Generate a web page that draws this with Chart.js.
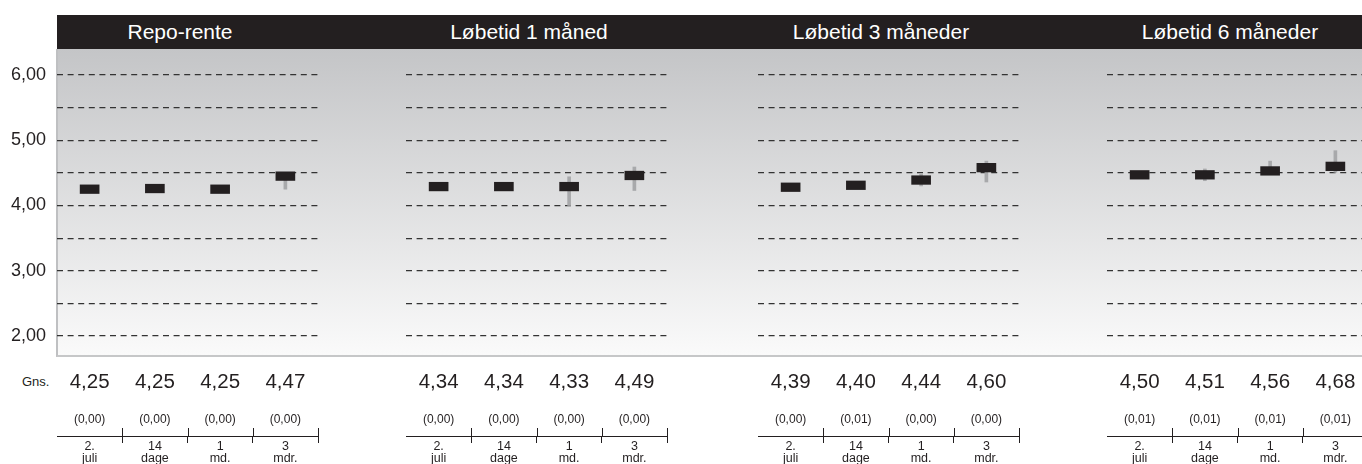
<!DOCTYPE html>
<html>
<head>
<meta charset="utf-8">
<script src="https://cdn.jsdelivr.net/npm/chart.js@4/dist/chart.umd.min.js"></script>
<style>
  html, body { margin: 0; padding: 0; background: #fff; }
  body { position: relative; width: 1362px; height: 464px; overflow: hidden;
         font-family: "Liberation Sans", Arial, Helvetica, sans-serif; color: #231f20; }
  #band { position: absolute; left: 57px; top: 15px; width: 1305px; height: 34px; background: #231f20; }
  .title { position: absolute; top: 15px; height: 34px; line-height: 34px; color: #fff; font-size: 21px;
           font-weight: normal; transform: translateX(-50%); white-space: nowrap; }
  #field { position: absolute; left: 56px; top: 49px; width: 1306px; height: 308px; box-sizing: border-box;
           border-left: 2px solid #bfc0c2; border-bottom: 2px solid #c6c7c8;
           background: linear-gradient(to bottom, #c4c5c7, #fafafa); }
  #gns { position: absolute; left: 22px; top: 374px; font-size: 13px; line-height: 16px; }
  canvas { position: absolute; top: 0; }
</style>
</head>
<body>
<div id="field"></div>
<div id="band"></div>
<div id="gns">Gns.</div>

<script>
// Horizons asked about in the survey (shared by all four panels)
const horizons = [['2.', 'juli'], ['14', 'dage'], ['1', 'md.'], ['3', 'mdr.']];
const panelTitles = ['Repo-rente', 'Løbetid 1 måned', 'Løbetid 3 måneder', 'Løbetid 6 måneder'];
const yLabelValues = [2, 3, 4, 5, 6];

// Repo-rente
const repoMedian = [4.25, 4.26, 4.25, 4.45];
const repoLow    = [null, null, null, 4.25];
const repoHigh   = [null, null, null, 4.50];
const repoAvg    = [4.25, 4.25, 4.25, 4.47];
const repoSpread = [0.00, 0.00, 0.00, 0.00];

// Løbetid 1 måned
const m1Median = [4.29, 4.29, 4.29, 4.46];
const m1Low    = [null, null, 4.00, 4.23];
const m1High   = [null, null, 4.44, 4.59];
const m1Avg    = [4.34, 4.34, 4.33, 4.49];
const m1Spread = [0.00, 0.00, 0.00, 0.00];

// Løbetid 3 måneder
const m3Median = [4.28, 4.31, 4.39, 4.58];
const m3Low    = [null, null, 4.30, 4.36];
const m3High   = [null, null, 4.48, 4.68];
const m3Avg    = [4.39, 4.40, 4.44, 4.60];
const m3Spread = [0.00, 0.01, 0.00, 0.00];

// Løbetid 6 måneder
const m6Median = [4.47, 4.47, 4.53, 4.60];
const m6Low    = [null, 4.38, 4.53, 4.51];
const m6High   = [null, 4.56, 4.68, 4.84];
const m6Avg    = [4.50, 4.51, 4.56, 4.68];
const m6Spread = [0.01, 0.01, 0.01, 0.01];

const panels = [
  { median: repoMedian, low: repoLow, high: repoHigh, avg: repoAvg, spread: repoSpread },
  { median: m1Median,   low: m1Low,   high: m1High,   avg: m1Avg,   spread: m1Spread },
  { median: m3Median,   low: m3Low,   high: m3High,   avg: m3Avg,   spread: m3Spread },
  { median: m6Median,   low: m6Low,   high: m6High,   avg: m6Avg,   spread: m6Spread }
];

// Layout
const PLOT_LEFT = [57, 406, 758, 1107];
const PLOT_WIDTH = 261;
const Y_AXIS_WIDTH = 57;
const SIDE_PAD = 10;
const H = 464;
const PLOT_BOTTOM = 336;
const AVG_ROW = 66, SPREAD_ROW = 34;
const BOX_HALF = 0.066;          // half height of the median marker, in percentage points
const INK = '#231f20';
const FONT = '"Liberation Sans", Arial, Helvetica, sans-serif';

const comma = (v, d) => v.toFixed(d).replace('.', ',');

// Fixed row height for a bottom axis, without side padding for its labels
const rowHeight = h => s => { s.height = h; s.paddingLeft = 0; s.paddingRight = 0; };

// Extends the horizon tick marks upward so they cross the axis line
const crossTicks = {
  id: 'crossTicks',
  afterDraw(chart) {
    const s = chart.scales.xc;
    const ctx = chart.ctx;
    ctx.save();
    ctx.strokeStyle = INK;
    ctx.lineWidth = 1;
    ctx.beginPath();
    for (let i = 1; i <= horizons.length; i++) {
      const x = Math.round(s.getPixelForValue(i - 0.5)) + 0.5;
      ctx.moveTo(x, s.top - 8);
      ctx.lineTo(x, s.top + 1);
    }
    ctx.stroke();
    ctx.restore();
  }
};

panelTitles.forEach((t, k) => {
  const el = document.createElement('div');
  el.className = 'title';
  el.textContent = t;
  el.style.left = (PLOT_LEFT[k] + 123) + 'px';
  document.body.appendChild(el);
});

panels.forEach((p, k) => {
  const first = k === 0;
  const padLeft = first ? 0 : SIDE_PAD;
  const leftSpace = first ? Y_AXIS_WIDTH : SIDE_PAD;
  const canvas = document.createElement('canvas');
  canvas.width = leftSpace + PLOT_WIDTH + SIDE_PAD;
  canvas.height = H;
  canvas.style.left = (PLOT_LEFT[k] - leftSpace) + 'px';
  document.body.appendChild(canvas);

  new Chart(canvas, {
    type: 'bar',
    data: {
      labels: horizons,
      datasets: [
        {
          label: 'Median',
          data: p.median.map(m => [m - BOX_HALF, m + BOX_HALF]),
          backgroundColor: INK,
          barThickness: 19,
          grouped: false,
          order: 1
        },
        {
          label: 'Spænd',
          data: p.low.map((l, i) => (l === null ? null : [l, p.high[i]])),
          backgroundColor: '#a8a9ab',
          barThickness: 3,
          grouped: false,
          order: 2
        }
      ]
    },
    options: {
      responsive: false,
      animation: false,
      devicePixelRatio: 1,
      layout: { padding: { top: 75, bottom: 0, left: padLeft, right: SIDE_PAD } },
      plugins: { legend: { display: false }, tooltip: { enabled: false }, title: { display: false } },
      scales: {
        y: {
          min: 2, max: 6,
          position: 'left',
          afterFit: s => { s.width = first ? Y_AXIS_WIDTH : 0; },
          grid: { color: '#333333', lineWidth: 1.2, drawTicks: false },
          border: { display: false, dash: [6, 4.6] },
          ticks: {
            display: first,
            stepSize: 0.5,
            padding: 11,
            color: INK,
            font: { family: FONT, size: 18 },
            callback: v => (yLabelValues.includes(v) ? comma(v, 2) : '')
          }
        },
        x: {
          type: 'category',
          position: 'bottom',
          weight: 0,
          offset: true,
          afterFit: rowHeight(AVG_ROW),
          grid: { display: false, drawTicks: false, offset: true },
          border: { display: false },
          ticks: {
            autoSkip: false, maxRotation: 0, padding: 33.7, color: INK,
            font: { family: FONT, size: 20.5 },
            callback: (v, i) => comma(p.avg[i], 2)
          }
        },
        xs: {
          type: 'category',
          position: 'bottom',
          weight: 1,
          offset: true,
          labels: horizons,
          afterFit: rowHeight(SPREAD_ROW),
          grid: { display: false, drawTicks: false, offset: true },
          border: { display: false },
          ticks: {
            autoSkip: false, maxRotation: 0, padding: 10.3, color: INK,
            font: { family: FONT, size: 12 },
            callback: (v, i) => '(' + comma(p.spread[i], 2) + ')'
          }
        },
        xc: {
          type: 'category',
          position: 'bottom',
          weight: 2,
          offset: true,
          labels: horizons,
          afterFit: rowHeight(H - PLOT_BOTTOM - AVG_ROW - SPREAD_ROW),
          grid: {
            offset: true,
            drawOnChartArea: false,
            drawTicks: true,
            tickLength: 7,
            lineWidth: 1,
            color: c => (c.index === 0 ? 'rgba(0,0,0,0)' : INK),
            tickColor: c => (c.index === 0 ? 'rgba(0,0,0,0)' : INK)
          },
          border: { display: true, color: INK, width: 1 },
          ticks: {
            autoSkip: false, maxRotation: 0, padding: -2, color: INK,
            font: { family: FONT, size: 12.5, lineHeight: 0.96 }
          }
        }
      }
    },
    plugins: [crossTicks]
  });
});
</script>
</body>
</html>
